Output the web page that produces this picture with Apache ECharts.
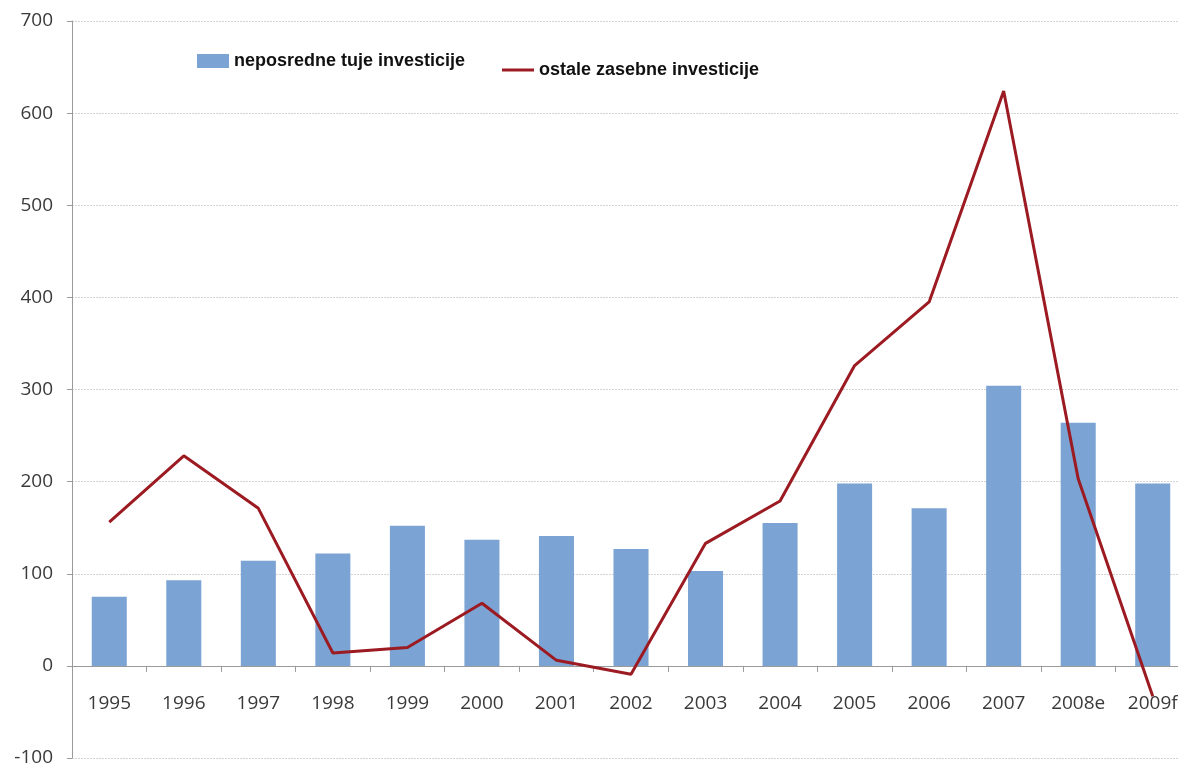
<!DOCTYPE html>
<html>
<head>
<meta charset="utf-8">
<script src="https://cdn.jsdelivr.net/npm/echarts@6/dist/echarts.min.js"></script>
<style>
  html, body { margin: 0; padding: 0; background: #fff; }
  #chart { width: 1178px; height: 767px; }
</style>
</head>
<body>
<div id="chart"></div>
<script>
// Years (e = estimate, f = forecast)
const years = ['1995', '1996', '1997', '1998', '1999', '2000', '2001', '2002',
               '2003', '2004', '2005', '2006', '2007', '2008e', '2009f'];

// Foreign direct investment (bars)
const directInvestment = [75, 93, 114, 122, 152, 137, 141, 127, 103, 155, 198, 171, 304, 264, 198];

// Other private investment (line)
const otherInvestment = [156, 228, 171, 14, 20, 68, 6, -9, 133, 179, 326, 395, 624, 203, -33];

const yTicks = { min: -100, max: 700, step: 100 };

const barName = 'neposredne tuje investicije';
const lineName = 'ostale zasebne investicije';

const gridTop = 21, gridBottom = 9, chartHeight = 767;
// pixel distance from the bottom of the plot to the zero line
const plotHeight = chartHeight - gridTop - gridBottom;
const zeroOffset = plotHeight * (0 - yTicks.min) / (yTicks.max - yTicks.min);

const chart = echarts.init(document.getElementById('chart'), null, { renderer: 'canvas' });

const axisFont = '"Open Sans", "Liberation Sans", sans-serif';
const legendFont = '"Liberation Sans Narrow", "Arial Narrow", "Liberation Sans", sans-serif';

chart.setOption({
  animation: false,
  backgroundColor: '#ffffff',
  grid: { left: 72, right: -12, top: gridTop, bottom: gridBottom, containLabel: false, outerBoundsMode: 'none' },
  legend: [
    {
      data: [{ name: barName, icon: 'rect' }],
      left: 192, top: 47,
      itemWidth: 32, itemHeight: 14,
      textStyle: { fontFamily: legendFont, fontWeight: 'bold', fontSize: 18, color: '#111' }
    },
    {
      data: [{ name: lineName, icon: 'path://M0,0 L32,0 L32,3 L0,3 Z' }],
      left: 497, top: 56,
      itemWidth: 32, itemHeight: 3,
      textStyle: { fontFamily: legendFont, fontWeight: 'bold', fontSize: 18, color: '#111', padding: [3, 0, 0, 0] }
    }
  ],
  xAxis: {
    type: 'category',
    data: years,
    offset: -zeroOffset,
    axisLine: { onZero: false, lineStyle: { color: '#9a9a9a', width: 1 } },
    axisTick: { show: true, alignWithLabel: false, length: 6, lineStyle: { color: '#9a9a9a' } },
    axisLabel: { margin: 28, fontFamily: axisFont, fontSize: 19, color: '#3a3a3a', interval: 0 },
    splitLine: { show: false }
  },
  yAxis: {
    type: 'value',
    min: yTicks.min, max: yTicks.max, interval: yTicks.step,
    axisLine: { show: true, lineStyle: { color: '#9a9a9a', width: 1 } },
    axisTick: { show: true, length: 5, lineStyle: { color: '#9a9a9a' } },
    axisLabel: { margin: 19, fontFamily: axisFont, fontSize: 19, color: '#3a3a3a' },
    splitLine: { show: true, lineStyle: { color: '#d4d4d4', type: [2, 1], width: 1 } }
  },
  series: [
    {
      name: barName,
      type: 'bar',
      data: directInvestment,
      barWidth: '47%',
      itemStyle: { color: '#7ba3d3' },
      z: 2
    },
    {
      name: lineName,
      type: 'line',
      data: otherInvestment,
      showSymbol: false,
      symbol: 'none',
      lineStyle: { color: '#9c1a21', width: 3 },
      itemStyle: { color: '#9c1a21' },
      z: 3
    }
  ]
});
</script>
</body>
</html>
